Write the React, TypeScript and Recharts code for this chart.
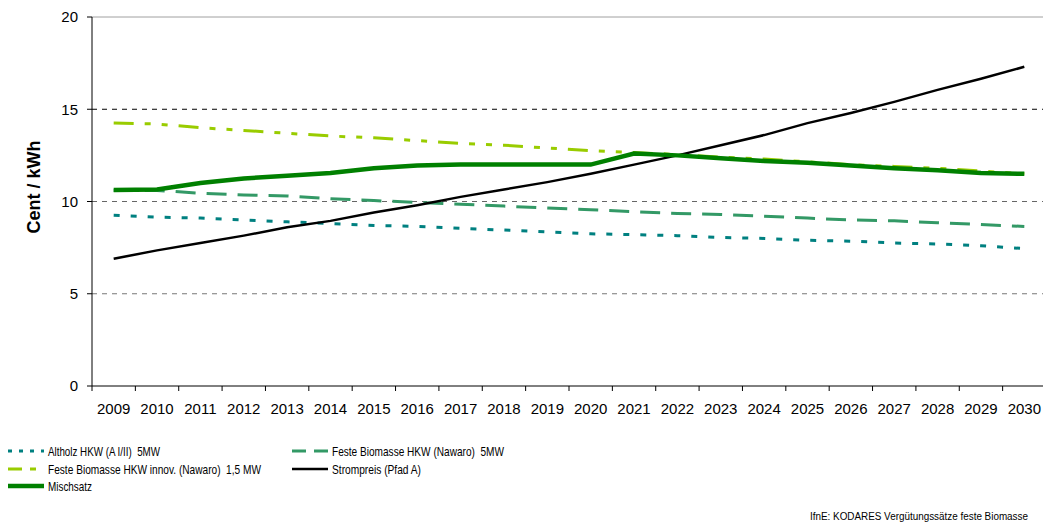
import React from 'react'
import { LineChart, Line, XAxis, YAxis, ReferenceLine } from 'recharts'

const YEARS = [
  '2009', '2010', '2011', '2012', '2013', '2014', '2015', '2016', '2017', '2018', '2019',
  '2020', '2021', '2022', '2023', '2024', '2025', '2026', '2027', '2028', '2029', '2030',
]
const ALTHOLZ = [9.25, 9.15, 9.1, 9.0, 8.9, 8.8, 8.7, 8.65, 8.55, 8.45, 8.35, 8.25, 8.2, 8.15, 8.05, 8.0, 7.9, 7.85, 7.75, 7.7, 7.6, 7.45]
const NAWARO = [10.6, 10.6, 10.45, 10.35, 10.3, 10.15, 10.05, 9.95, 9.85, 9.75, 9.65, 9.55, 9.45, 9.35, 9.3, 9.2, 9.1, 9.0, 8.95, 8.85, 8.75, 8.65]
const INNOV = [14.25, 14.2, 14.0, 13.85, 13.7, 13.55, 13.45, 13.3, 13.15, 13.05, 12.9, 12.75, 12.65, 12.55, 12.4, 12.3, 12.15, 12.0, 11.9, 11.8, 11.65, 11.5]
const STROM = [6.9, 7.35, 7.75, 8.15, 8.6, 8.95, 9.4, 9.8, 10.25, 10.65, 11.05, 11.5, 12.0, 12.5, 13.05, 13.6, 14.25, 14.8, 15.4, 16.05, 16.65, 17.3]
const MISCH = [10.62, 10.65, 11.0, 11.25, 11.4, 11.55, 11.8, 11.95, 12.0, 12.0, 12.0, 12.0, 12.6, 12.5, 12.35, 12.2, 12.1, 11.95, 11.8, 11.7, 11.55, 11.5]
const Y_TICKS = [0, 5, 10, 15, 20]

const data = YEARS.map((year, i) => ({
  year,
  altholz: ALTHOLZ[i],
  nawaro: NAWARO[i],
  innov: INNOV[i],
  strom: STROM[i],
  misch: MISCH[i],
}))

const FONT = '"Liberation Sans", Arial, sans-serif'
const HALF_BAND = 954 / 22 / 2

// lx/ly/tw = legend line start, row, text width
const SERIES = [
  { key: 'altholz', name: 'Altholz HKW (A I/II)  5MW', color: '#008080', width: 3, dash: '6 11', legDash: '4 7', lx: 8, ly: 451, tw: 112 },
  { key: 'nawaro', name: 'Feste Biomasse HKW (Nawaro)  5MW', color: '#339966', width: 3, dash: '20 11', legDash: '14 8', lx: 292, ly: 451, tw: 172 },
  { key: 'innov', name: 'Feste Biomasse HKW innov. (Nawaro)  1,5 MW', color: '#99CC00', width: 3, dash: '20 11 6 11 6 11', legDash: '14 8 6 8', lx: 8, ly: 469, tw: 213 },
  { key: 'strom', name: 'Strompreis (Pfad A)', color: '#000000', width: 2.5, dash: undefined, legDash: undefined, lx: 292, ly: 469, tw: 89 },
  { key: 'misch', name: 'Mischsatz', color: '#008000', width: 4.5, dash: undefined, legDash: undefined, lx: 8, ly: 486, tw: 44 },
]

const XTick = ({ x, y, payload }: any) => (
  <g>
    <line x1={x - HALF_BAND} x2={x - HALF_BAND} y1={y} y2={y + 5} stroke="#000" />
    <text x={x} y={y + 28} textAnchor="middle" fontSize={15} fill="#000" fontFamily={FONT}>
      {payload.value}
    </text>
  </g>
)

export default function App() {
  return (
    <div style={{ position: 'absolute', left: 0, top: 0, width: 1043, height: 523, overflow: 'hidden', background: '#fff', fontFamily: FONT }}>
      <LineChart width={1050} height={523} data={data} margin={{ top: 17, right: 4, bottom: 107, left: 0 }}>
        <ReferenceLine y={20} stroke="#a0a0a0" />
        <ReferenceLine y={15} stroke="#000" strokeDasharray="5 5" />
        <ReferenceLine y={10} stroke="#666" strokeDasharray="5 5" />
        <ReferenceLine y={5} stroke="#777" strokeDasharray="5 5" />
        <XAxis
          dataKey="year"
          height={30}
          padding={{ left: HALF_BAND, right: HALF_BAND }}
          tickLine={false}
          tickSize={0}
          tickMargin={0}
          axisLine={{ stroke: '#000' }}
          tick={<XTick />}
          interval={0}
        />
        <YAxis
          width={92}
          domain={[0, 20]}
          ticks={Y_TICKS}
          tickSize={5}
          tickMargin={9}
          axisLine={{ stroke: '#000' }}
          tickLine={{ stroke: '#000' }}
          tick={{ fontSize: 15, fill: '#000', fontFamily: FONT }}
          label={{
            content: () => (
              <text
                x={34}
                y={187}
                transform="rotate(-90 34 187)"
                textAnchor="middle"
                dominantBaseline="central"
                fontSize={18}
                fontWeight="bold"
                fill="#000"
                fontFamily={FONT}
              >
                Cent / kWh
              </text>
            ),
          }}
        />
        {SERIES.map((s) => (
          <Line
            key={s.key}
            type="linear"
            dataKey={s.key}
            name={s.name}
            stroke={s.color}
            strokeWidth={s.width}
            strokeDasharray={s.dash}
            dot={false}
            activeDot={false}
            isAnimationActive={false}
          />
        ))}
      </LineChart>
      <svg width={1043} height={523} style={{ position: 'absolute', left: 0, top: 0, pointerEvents: 'none' }}>
        {SERIES.map((s) => (
          <g key={s.key}>
            <line x1={s.lx} x2={s.lx + 36} y1={s.ly} y2={s.ly} stroke={s.color} strokeWidth={s.width} strokeDasharray={s.legDash} />
            <text
              x={s.lx + 40}
              y={s.ly}
              dominantBaseline="central"
              fontSize={13}
              fill="#000"
              fontFamily={FONT}
              textLength={s.tw}
              lengthAdjust="spacingAndGlyphs"
              style={{ whiteSpace: 'pre' }}
            >
              {s.name}
            </text>
          </g>
        ))}
        <text x={1028} y={516} textAnchor="end" dominantBaseline="central" fontSize={10} fill="#000" fontFamily={FONT} textLength={218} lengthAdjust="spacingAndGlyphs">
          IfnE: KODARES Vergütungssätze feste Biomasse
        </text>
      </svg>
    </div>
  )
}
